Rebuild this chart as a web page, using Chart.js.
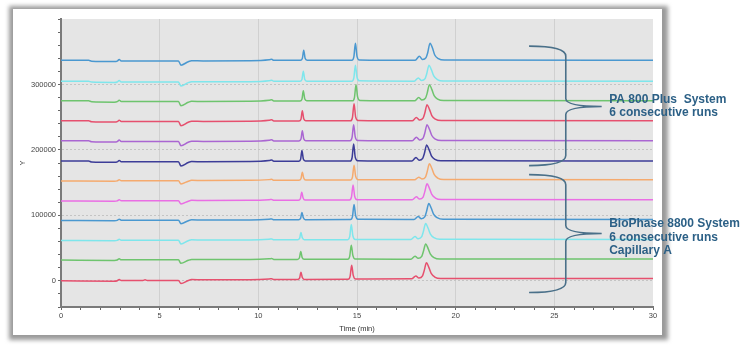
<!DOCTYPE html>
<html>
<head>
<meta charset="utf-8">
<title>Electropherogram overlay</title>
<script src="https://cdn.jsdelivr.net/npm/chart.js@4.4.1/dist/chart.umd.min.js"></script>
<style>
  html, body { margin: 0; padding: 0; background: #ffffff; }
  canvas { display: block; }
</style>
</head>
<body>
<canvas id="chart" width="750" height="347"></canvas>
<script>
// Signal traces, [time (min), detector signal] pairs, stacked with an offset per run.
// PA 800 Plus System, 6 consecutive runs
const paRun1 = [[0,337000],[1.40,337000],[1.55,335600],[2.70,335000],[2.85,335700],[2.95,338000],[3.05,335900],[5.95,335800],[6.08,329500],[6.45,334800],[6.62,336200],[7.20,336000],[9.60,336300],[10.55,337800],[10.68,338500],[10.78,336800],
  [12.13,336800],[12.23,339500],[12.30,352300],[12.37,340000],[12.47,337000],
  [14.74,337000],[14.84,342000],[14.92,363000],[15.00,343000],[15.12,337500],
  [17.95,337000],[18.16,343000],[18.32,338200],[18.50,341000],[18.58,348000],[18.70,363000],[18.82,356000],[18.94,345000],[19.12,339500],[19.42,337300],[30,337000]];
const paRun2 = [[0,305000],[1.40,305000],[1.55,303600],[2.70,303000],[2.85,303700],[2.95,306000],[3.05,303900],[5.95,303800],[6.08,297500],[6.45,302800],[6.62,304200],[7.20,304000],[9.60,304300],[10.55,305800],[10.68,306500],[10.78,304800],
  [12.11,304800],[12.21,307500],[12.28,320300],[12.35,308000],[12.45,305000],
  [14.74,305000],[14.84,310000],[14.92,329500],[15.00,311000],[15.12,305500],
  [17.90,305000],[18.11,310000],[18.27,306200],[18.45,309000],[18.53,316000],[18.65,329500],[18.77,322500],[18.89,313000],[19.07,307500],[19.37,305300],[30,305000]];
const paRun3 = [[0,275000],[1.40,275000],[1.55,273600],[2.70,273000],[2.85,273700],[2.95,276000],[3.05,273900],[5.95,273800],[6.08,267500],[6.45,272800],[6.62,274200],[7.20,274000],[9.60,274300],[10.55,275800],[10.68,276500],[10.78,274800],
  [12.11,274800],[12.21,277500],[12.28,290300],[12.35,278000],[12.45,275000],
  [14.77,275000],[14.87,280000],[14.95,299500],[15.03,281000],[15.15,275500],
  [17.92,275000],[18.13,280000],[18.29,276200],[18.47,279000],[18.55,286000],[18.67,299500],[18.79,292500],[18.91,283000],[19.09,277500],[19.39,275300],[30,275000]];
const paRun4 = [[0,244500],[1.40,244500],[1.55,243100],[2.70,242500],[2.85,243200],[2.95,245500],[3.05,243400],[5.95,243300],[6.08,237000],[6.45,242300],[6.62,243700],[7.20,243500],[9.60,243800],[10.55,245300],[10.68,246000],[10.78,244300],
  [12.06,244300],[12.16,247000],[12.23,259800],[12.30,247500],[12.40,244500],
  [14.67,244500],[14.77,249500],[14.85,270500],[14.93,250500],[15.05,245000],
  [17.80,244500],[18.01,249500],[18.17,245700],[18.35,248500],[18.43,255500],[18.55,269000],[18.67,262000],[18.79,252500],[18.97,247000],[19.27,244800],[30,244500]];
const paRun5 = [[0,214000],[1.40,214000],[1.55,212600],[2.70,212000],[2.85,212700],[2.95,215000],[3.05,212900],[5.95,212800],[6.08,206500],[6.45,211800],[6.62,213200],[7.20,213000],[9.60,213300],[10.55,214800],[10.68,215500],[10.78,213800],
  [12.06,213800],[12.16,216500],[12.23,229300],[12.30,217000],[12.40,214000],
  [14.65,214000],[14.75,219000],[14.83,238500],[14.91,220000],[15.03,214500],
  [17.80,214000],[18.01,219500],[18.17,215200],[18.35,218000],[18.43,225000],[18.55,238500],[18.67,231500],[18.79,222000],[18.97,216500],[19.27,214300],[30,214000]];
const paRun6 = [[0,183000],[1.40,183000],[1.55,181600],[2.70,181000],[2.85,181700],[2.95,184000],[3.05,181900],[5.95,181800],[6.08,175500],[6.45,180800],[6.62,182200],[7.20,182000],[9.60,182300],[10.55,183800],[10.68,184500],[10.78,182800],
  [12.04,182800],[12.14,185500],[12.21,199000],[12.28,186000],[12.38,183000],
  [14.65,183000],[14.75,188000],[14.83,209000],[14.91,189000],[15.03,183500],
  [17.78,183000],[17.99,188500],[18.15,184200],[18.33,187000],[18.41,194000],[18.53,207500],[18.65,200500],[18.77,191000],[18.95,185500],[19.25,183300],[30,183000]];

// BioPhase 8800 System, capillary A, 6 consecutive runs
const bpRun1 = [[0,152600],[2.70,152100],[2.85,152700],[2.95,154500],[3.05,152900],[5.95,153000],[6.08,148000],[6.45,152200],[6.62,153500],[7.20,153300],[9.60,153500],[10.55,154600],[10.68,155000],[10.78,153700],
  [12.06,153800],[12.16,156000],[12.23,165800],[12.30,157000],[12.40,153900],
  [14.67,154100],[14.77,158500],[14.85,176600],[14.93,160000],[15.05,154600],
  [17.92,154400],[18.13,158400],[18.29,155600],[18.47,158500],[18.55,166000],[18.67,178900],[18.79,172000],[18.91,162500],[19.09,157000],[19.39,154800],[30,154600]];
const bpRun2 = [[0,122000],[2.70,121500],[2.85,122100],[2.95,123900],[3.05,122300],[5.95,122400],[6.08,117400],[6.45,121600],[6.62,122900],[7.20,122700],[9.60,122900],[10.55,124000],[10.68,124400],[10.78,123100],
  [12.03,123200],[12.13,125400],[12.20,135200],[12.27,126400],[12.37,123300],
  [14.62,123500],[14.72,128000],[14.80,146500],[14.88,129500],[15.00,124000],
  [17.80,123800],[18.01,128300],[18.17,125000],[18.35,128000],[18.43,135500],[18.55,148300],[18.67,141300],[18.79,132000],[18.97,126500],[19.27,124200],[30,124000]];
const bpRun3 = [[0,92300],[2.70,91800],[2.85,92400],[2.95,94200],[3.05,92600],[5.95,92700],[6.08,87300],[6.45,91900],[6.62,93200],[7.20,93000],[9.60,93100],[10.55,94200],[10.68,94600],[10.78,93300],
  [12.04,93300],[12.14,95400],[12.21,104300],[12.28,96300],[12.38,93400],
  [14.67,93500],[14.77,98000],[14.85,116500],[14.93,99500],[15.05,93900],
  [17.89,93700],[18.10,98200],[18.26,94900],[18.44,98000],[18.52,105500],[18.64,118200],[18.76,111200],[18.88,102000],[19.06,96500],[19.36,94000],[30,93800]];
const bpRun4 = [[0,61700],[2.70,61200],[2.85,61800],[2.95,63600],[3.05,62000],[5.95,62100],[6.08,56300],[6.45,61300],[6.62,62600],[7.20,62400],[9.60,62500],[10.55,63600],[10.68,64000],[10.78,62700],
  [11.99,62700],[12.09,64800],[12.16,73700],[12.23,65700],[12.33,62800],
  [14.53,62900],[14.63,67400],[14.71,85900],[14.79,68900],[14.91,63300],
  [17.73,63100],[17.94,67600],[18.10,64300],[18.28,67400],[18.36,74900],[18.48,87600],[18.60,80600],[18.72,71400],[18.90,65900],[19.20,63400],[30,63200]];
const bpRun5 = [[0,31700],[2.70,31200],[2.85,31800],[2.95,33600],[3.05,32000],[5.95,32100],[6.08,26700],[6.45,31300],[6.62,32600],[7.20,32400],[9.60,32500],[10.55,33600],[10.68,34000],[10.78,32700],
  [11.98,32700],[12.08,34800],[12.15,44700],[12.22,35700],[12.32,32800],
  [14.53,32900],[14.63,37400],[14.71,54400],[14.79,38900],[14.91,33300],
  [17.73,33100],[17.94,37600],[18.10,34300],[18.28,37400],[18.36,44400],[18.48,56100],[18.60,49600],[18.72,40900],[18.90,35600],[19.20,33400],[30,33200]];
const bpRun6 = [[0,0],[2.70,-500],[2.85,200],[2.95,2000],[3.05,400],[4.15,500],[4.26,1600],[4.37,500],[5.95,600],[6.08,-4200],[6.45,500],[6.62,1900],[7.20,1700],[9.60,1800],[10.55,2900],[10.68,3300],[10.78,2000],
  [11.99,2000],[12.09,4100],[12.16,13000],[12.23,5000],[12.33,2100],
  [14.55,2300],[14.65,6800],[14.73,23800],[14.81,8300],[14.93,2700],
  [17.77,3000],[17.98,7500],[18.14,4200],[18.32,7500],[18.40,15000],[18.52,27500],[18.64,20500],[18.76,11200],[18.94,5800],[19.24,3600],[30,3500]];

const runs = [paRun1, paRun2, paRun3, paRun4, paRun5, paRun6, bpRun1, bpRun2, bpRun3, bpRun4, bpRun5, bpRun6];
const runNames = ['PA 800 Plus run 1','PA 800 Plus run 2','PA 800 Plus run 3','PA 800 Plus run 4','PA 800 Plus run 5','PA 800 Plus run 6',
  'BioPhase 8800 run 1','BioPhase 8800 run 2','BioPhase 8800 run 3','BioPhase 8800 run 4','BioPhase 8800 run 5','BioPhase 8800 run 6'];
const runColors = ['#4a98d0','#7ee6ec','#6ec46e','#e6506e','#aa66d2','#3d3d98',
  '#f5aa6e','#ea6ee4','#4a98d0','#7ee6ec','#6ec46e','#e6506e'];

// Axis extents, tick steps and labelled tick values
const timeRange = [0, 30];
const timeStep = 1;
const signalRange = [-40000, 400000];
const signalStep = 20000;
const timeLabelTicks = [0, 5, 10, 15, 20, 25, 30];
const timeGridLines = [5, 10, 15, 20, 25];
const signalLabelTicks = [0, 100000, 200000, 300000];

// Group annotations: brace ends/tip in (time, signal) and the text beside them
const groupBraces = [
  { x0: 23.72, xv: 25.58, xt: 27.40, top: 358600, mid: 266300, bottom: 176000,
    lines: ['PA 800 Plus  System', '6 consecutive runs'], firstLineOffset: -7 },
  { x0: 23.72, xv: 25.58, xt: 27.40, top: 162200, mid: 72400, bottom: -17900,
    lines: ['BioPhase 8800 System', '6 consecutive runs', 'Capillary A'], firstLineOffset: -9.5 }
];

const tickFont = { family: '"Liberation Sans", Arial, sans-serif', size: 7.5 };
const matchTick = (list, v) => list.some(t => Math.abs(t - v) < 1e-3);

const panelPlugin = {
  id: 'panel',
  beforeDraw(chart) {
    const ctx = chart.ctx;
    const a = chart.chartArea;
    ctx.save();
    ctx.fillStyle = '#ffffff';
    ctx.fillRect(0, 0, chart.width, chart.height);
    // framed white panel with soft gray edge
    ctx.filter = 'blur(2px)';
    ctx.fillStyle = '#9a9a9a';
    ctx.fillRect(9, 6, 659, 334);
    ctx.filter = 'none';
    ctx.fillStyle = '#ffffff';
    ctx.fillRect(13, 9, 649, 326);
    // plot background
    ctx.fillStyle = '#e5e5e5';
    ctx.fillRect(a.left, a.top, a.right - a.left, a.bottom - a.top);
    ctx.restore();
  }
};

const bracePlugin = {
  id: 'braces',
  afterDraw(chart) {
    const ctx = chart.ctx;
    const xs = chart.scales.x, ys = chart.scales.y;
    ctx.save();
    groupBraces.forEach(g => {
      const x0 = xs.getPixelForValue(g.x0);
      const xv = xs.getPixelForValue(g.xv);
      const xt = xs.getPixelForValue(g.xt);
      const yT = ys.getPixelForValue(g.top);
      const yM = ys.getPixelForValue(g.mid);
      const yB = ys.getPixelForValue(g.bottom);
      ctx.beginPath();
      ctx.moveTo(x0, yT);
      ctx.quadraticCurveTo(xv, yT, xv, yT + 10);
      ctx.lineTo(xv, yM - 8);
      ctx.quadraticCurveTo(xv, yM, xt, yM);
      ctx.quadraticCurveTo(xv, yM, xv, yM + 8);
      ctx.lineTo(xv, yB - 10);
      ctx.quadraticCurveTo(xv, yB, x0, yB);
      ctx.strokeStyle = '#4a7089';
      ctx.lineWidth = 1.6;
      ctx.stroke();

      ctx.fillStyle = '#2c6086';
      ctx.font = 'bold 12px "Liberation Sans", Arial, sans-serif';
      ctx.textAlign = 'left';
      ctx.textBaseline = 'middle';
      const tx = xt + 7.5;
      g.lines.forEach((line, i) => {
        ctx.fillText(line, tx, yM + g.firstLineOffset + i * 13.3);
      });
    });
    ctx.restore();
  }
};

new Chart(document.getElementById('chart'), {
  type: 'line',
  data: {
    datasets: runs.map((run, i) => ({
      label: runNames[i],
      data: run.map(p => ({ x: p[0], y: p[1] })),
      borderColor: runColors[i],
      borderWidth: 1.5,
      pointRadius: 0,
      fill: false,
      cubicInterpolationMode: 'monotone'
    }))
  },
  options: {
    responsive: false,
    devicePixelRatio: 1,
    animation: false,
    events: [],
    layout: { padding: { left: 14, right: 97, top: 19, bottom: 0 } },
    plugins: { legend: { display: false }, tooltip: { enabled: false } },
    scales: {
      x: {
        type: 'linear',
        min: timeRange[0],
        max: timeRange[1],
        afterFit(scale) { scale.height = 40; },
        ticks: {
          stepSize: timeStep,
          maxTicksLimit: 60,
          autoSkip: false,
          maxRotation: 0,
          padding: 1,
          color: '#444',
          font: tickFont,
          callback: v => matchTick(timeLabelTicks, v) ? String(Math.round(v)) : ''
        },
        grid: {
          color: c => (c.tick && matchTick(timeGridLines, c.tick.value)) ? '#d0d0d0' : 'rgba(0,0,0,0)',
          tickColor: '#666',
          tickLength: 3,
          lineWidth: 1
        },
        border: { display: true, color: '#7a7a7a', width: 2 },
        title: {
          display: true,
          text: 'Time (min)',
          color: '#333',
          font: tickFont,
          padding: { top: 0, bottom: 14 }
        }
      },
      y: {
        type: 'linear',
        min: signalRange[0],
        max: signalRange[1],
        afterFit(scale) { scale.width = 47; },
        ticks: {
          stepSize: signalStep,
          maxTicksLimit: 60,
          includeBounds: false,
          autoSkip: false,
          padding: 2,
          color: '#444',
          font: tickFont,
          callback: v => matchTick(signalLabelTicks, v) ? String(Math.round(v)) : ''
        },
        grid: {
          color: c => (c.tick && matchTick(signalLabelTicks, c.tick.value)) ? '#c4c4c4' : 'rgba(0,0,0,0)',
          tickColor: '#666',
          tickLength: 3,
          lineWidth: 1
        },
        border: { display: true, color: '#7a7a7a', width: 2, dash: [2, 2] },
        title: {
          display: true,
          text: 'Y',
          color: '#333',
          font: tickFont,
          padding: { top: 4, bottom: 0 }
        }
      }
    }
  },
  plugins: [panelPlugin, bracePlugin]
});
</script>
</body>
</html>
